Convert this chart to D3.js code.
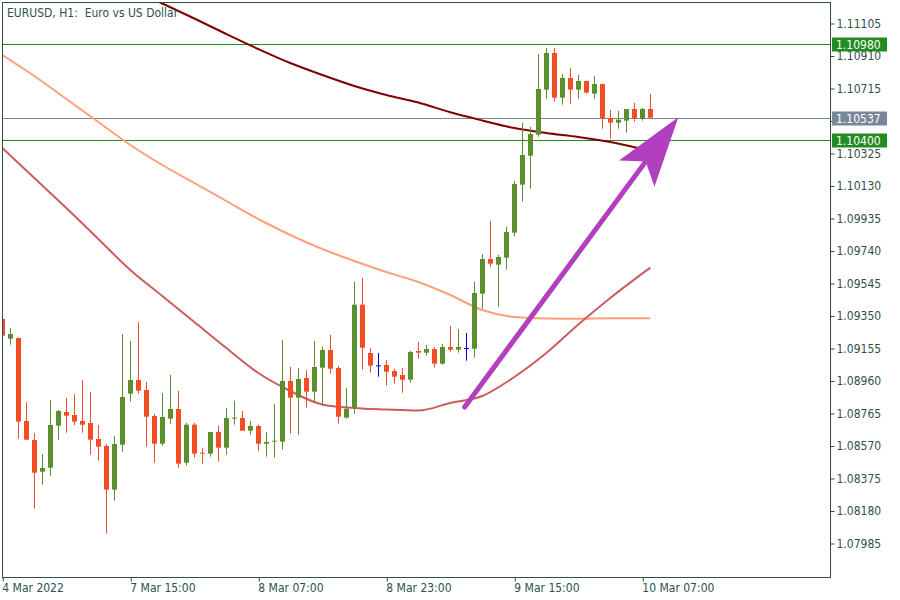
<!DOCTYPE html>
<html>
<head>
<meta charset="utf-8">
<script src="https://cdn.jsdelivr.net/npm/d3@7/dist/d3.min.js"></script>
<style>
  html, body { margin: 0; padding: 0; background: #ffffff; }
  svg { display: block; }
  text { font-family: "DejaVu Sans Condensed", "DejaVu Sans", sans-serif; }
</style>
</head>
<body>
<svg id="chart" width="900" height="600"></svg>
<script>
// ---------- DATA (EURUSD H1) ----------
const title = "EURUSD, H1:  Euro vs US Dollar";

const opens = [1.09329,1.09211,1.09215,1.08717,1.08603,1.08413,1.08437,1.08689,1.08771,1.08753,
1.08717,1.08705,1.08609,1.08567,1.08305,1.08575,1.08881,1.08963,1.08903,1.08747,
1.08581,1.08731,1.08789,1.08467,1.08695,1.08527,1.08521,1.08651,1.08557,1.08731,
1.08735,1.08659,1.08687,1.08581,1.08593,1.08593,1.08957,1.08857,1.08975,1.08893,
1.09037,1.09143,1.09035,1.08737,1.08797,1.09415,1.09125,1.09051,1.09053,1.09017,
1.08993,1.08965,1.09137,1.09127,1.09149,1.09061,1.09161,1.09145,1.09155,1.09151,
1.09481,1.09689,1.09655,1.09697,1.09847,1.10135,1.10309,1.10435,1.10705,1.10925,
1.10657,1.10775,1.10705,1.10757,1.10681,1.10739,1.10535,1.10507,1.10519,1.10589,
1.10531,1.10589];
const highs = [1.09335,1.09275,1.09218,1.08831,1.08643,1.08519,1.08843,1.08783,1.08855,1.08879,
1.08963,1.08891,1.08693,1.08579,1.08627,1.09239,1.09197,1.09311,1.08951,1.08759,
1.08885,1.08993,1.08897,1.08705,1.08705,1.08557,1.08651,1.08689,1.08797,1.08839,
1.08777,1.08717,1.08695,1.08651,1.08819,1.09203,1.09041,1.09035,1.09023,1.09197,
1.09163,1.09233,1.09047,1.08915,1.09551,1.09575,1.09155,1.09125,1.09083,1.09031,
1.09035,1.09137,1.09191,1.09173,1.09161,1.09179,1.09287,1.09269,1.09245,1.09551,
1.09719,1.09917,1.09713,1.09881,1.10157,1.10505,1.10481,1.10919,1.10955,1.10955,
1.10799,1.10835,1.10793,1.10759,1.10787,1.10741,1.10583,1.10577,1.10589,1.10625,
1.10595,1.10679];
const lows = [1.09221,1.09175,1.08611,1.08603,1.08191,1.08335,1.08389,1.08605,1.08647,1.08693,
1.08647,1.08515,1.08479,1.08041,1.08239,1.08533,1.08833,1.08881,1.08563,1.08467,
1.08569,1.08701,1.08437,1.08449,1.08497,1.08461,1.08503,1.08473,1.08515,1.08695,
1.08659,1.08635,1.08539,1.08503,1.08497,1.08545,1.08641,1.08635,1.08797,1.08827,
1.08809,1.09001,1.08701,1.08731,1.08761,1.09025,1.09007,1.08983,1.08929,1.08941,
1.08887,1.08947,1.09091,1.09109,1.09037,1.09055,1.09133,1.09127,1.09079,1.09097,
1.09391,1.09643,1.09403,1.09625,1.09823,1.10033,1.10111,1.10423,1.10651,1.10633,
1.10615,1.10621,1.10651,1.10681,1.10651,1.10471,1.10411,1.10471,1.10447,1.10513,
1.10519,1.10531];
const closes = [1.09229,1.09239,1.08713,1.08605,1.08407,1.08435,1.08693,1.08777,1.08749,1.08713,
1.08695,1.08605,1.08563,1.08305,1.08579,1.08861,1.08963,1.08899,1.08743,1.08581,
1.08741,1.08789,1.08461,1.08695,1.08521,1.08521,1.08651,1.08557,1.08735,1.08737,
1.08659,1.08687,1.08581,1.08591,1.08599,1.08957,1.08857,1.08969,1.08893,1.09041,
1.09143,1.09031,1.08743,1.08791,1.09415,1.09157,1.09049,1.09051,1.09013,1.08983,
1.08965,1.09131,1.09127,1.09149,1.09061,1.09161,1.09145,1.09161,1.09155,1.09485,
1.09689,1.09661,1.09701,1.09851,1.10139,1.10313,1.10439,1.10709,1.10925,1.10657,
1.10775,1.10705,1.10757,1.10687,1.10739,1.10535,1.10507,1.10525,1.10589,1.10531,
1.10589,1.10537];

// moving averages: bar index -> value
const maSlowBars = [18,20,24,28,32,36,40,44,48,52,56,60,64,68,72,76,81];
const maSlow     = [1.11267,1.11222,1.11132,1.11039,1.10949,1.10865,1.10793,1.10727,1.10673,1.10628,1.10569,1.10520,1.10475,1.10445,1.10421,1.10391,1.10337];
const maBars     = [0,4,8,12,16,20,24,28,32,36,40,44,48,52,56,60,64,68,72,76,81];
const maMid      = [1.10913,1.10787,1.10649,1.10511,1.10373,1.10253,1.10145,1.10037,1.09929,1.09833,1.09749,1.09677,1.09611,1.09551,1.09473,1.09383,1.09341,1.09332,1.09331,1.09333,1.09333];
const maFast     = [1.10355,1.10175,1.09995,1.09809,1.09623,1.09467,1.09311,1.09155,1.09005,1.08897,1.08816,1.08795,1.08786,1.08780,1.08825,1.08867,1.08981,1.09125,1.09296,1.09455,1.09637];

// horizontal levels
const levelValues = [1.10980, 1.10400];
const priceLine = 1.10537;

// axis ticks
const yTicks = [1.11105,1.10910,1.10715,1.10520,1.10325,1.10130,1.09935,1.09740,1.09545,1.09350,1.09155,1.08960,1.08765,1.08570,1.08375,1.08180,1.07985];
const yTickLabels = ["1.11105","1.10910","1.10715","","1.10325","1.10130","1.09935","1.09740","1.09545","1.09350","1.09155","1.08960","1.08765","1.08570","1.08375","1.08180","1.07985"];
const xTickBars = [0,16,32,48,64,80];
const xTickLabels = ["4 Mar 2022","7 Mar 15:00","8 Mar 07:00","8 Mar 23:00","9 Mar 15:00","10 Mar 07:00"];

// arrow annotation (bar index, price)
const arrowFrom = {bar: 57.8, price: 1.08801};
const arrowTo   = {bar: 84.5, price: 1.10539};

// ---------- DRAWING ----------
const svg = d3.select("#chart");
const L = 2.5, T = 2.5, R = 830.5, B = 577.5;
const axisColor = "#2F4F4F";
const bull = "#5B8F2E", bear = "#F44D24", dojiColor = "#0000CD";

const x = d3.scaleLinear().domain([0, 103.5]).range([2.3, 830.3]);
const y = d3.scaleLinear().domain([1.07781, 1.11243]).range([577, 0]);

svg.append("defs").append("clipPath").attr("id", "plotclip")
  .append("rect").attr("x", L).attr("y", T).attr("width", R - L).attr("height", B - T);

const plot = svg.append("g").attr("clip-path", "url(#plotclip)");

// horizontal levels
plot.selectAll("line.level").data(levelValues).enter().append("line")
  .attr("x1", L).attr("x2", R)
  .attr("y1", d => Math.round(y(d)) + 0.5).attr("y2", d => Math.round(y(d)) + 0.5)
  .attr("stroke", "#228B22").attr("stroke-width", 1);
plot.append("line")
  .attr("x1", L).attr("x2", R)
  .attr("y1", Math.round(y(priceLine)) + 0.5).attr("y2", Math.round(y(priceLine)) + 0.5)
  .attr("stroke", "#778899").attr("stroke-width", 1);

// moving averages
function maLine(bars, vals, color) {
  const pts = bars.map((b, i) => [x(b), y(vals[i])]);
  plot.append("path")
    .attr("d", d3.line().curve(d3.curveMonotoneX)(pts))
    .attr("fill", "none").attr("stroke", color).attr("stroke-width", 2);
}
maLine(maSlowBars, maSlow, "#800000");
maLine(maBars, maMid, "#FFA07A");
maLine(maBars, maFast, "#CD5C5C");

// candles
const candles = opens.map((o, i) => ({i, o, h: highs[i], l: lows[i], c: closes[i]}));
const colorOf = d => d.o === d.c ? dojiColor : (d.c > d.o ? bull : bear);
const cg = plot.selectAll("g.candle").data(candles).enter().append("g");
cg.append("line")
  .attr("x1", d => Math.round(x(d.i)) + 0.5).attr("x2", d => Math.round(x(d.i)) + 0.5)
  .attr("y1", d => y(d.h)).attr("y2", d => y(d.l))
  .attr("stroke", colorOf).attr("stroke-width", 1);
cg.append("rect")
  .attr("x", d => Math.round(x(d.i)) - 2)
  .attr("width", 5)
  .attr("y", d => y(Math.max(d.o, d.c)))
  .attr("height", d => Math.max(1, y(Math.min(d.o, d.c)) - y(Math.max(d.o, d.c))))
  .attr("fill", colorOf);

// arrow
const ax0 = x(arrowFrom.bar), ay0 = y(arrowFrom.price);
const ax1 = x(arrowTo.bar), ay1 = y(arrowTo.price);
const dx = ax1 - ax0, dy = ay1 - ay0, len = Math.hypot(dx, dy);
const ux = dx / len, uy = dy / len, nx = -uy, ny = ux;
const back = 70, notch = 55, half = 22;
const notchPt = [ax1 - ux * notch, ay1 - uy * notch];
const arrowColor = "#B23FBE";
svg.append("line")
  .attr("x1", ax0).attr("y1", ay0).attr("x2", notchPt[0] + ux * 4).attr("y2", notchPt[1] + uy * 4)
  .attr("stroke", arrowColor).attr("stroke-width", 5).attr("stroke-linecap", "round");
svg.append("path")
  .attr("d", d3.line()([
    [ax1, ay1],
    [ax1 - ux * back + nx * half, ay1 - uy * back + ny * half],
    notchPt,
    [ax1 - ux * back - nx * half, ay1 - uy * back - ny * half]
  ]) + "Z")
  .attr("fill", arrowColor);

// frame
svg.append("rect").attr("x", L).attr("y", T).attr("width", R - L).attr("height", B - T)
  .attr("fill", "none").attr("stroke", axisColor).attr("stroke-width", 1);

// right axis
const yAxis = d3.axisRight(y).tickValues(yTicks).tickSize(4).tickPadding(2)
  .tickFormat((d, i) => yTickLabels[i]);
const ya = svg.append("g").attr("transform", `translate(${R},0.5)`).call(yAxis);
ya.select(".domain").remove();
ya.selectAll("line").attr("stroke", axisColor);
ya.selectAll("text").attr("fill", axisColor).attr("font-size", 12)
  .style("font-family", '"DejaVu Sans Condensed", "DejaVu Sans", sans-serif');

// bottom axis
const xAxis = d3.axisBottom(x).tickValues(xTickBars).tickSize(4).tickPadding(2)
  .tickFormat((d, i) => xTickLabels[i]);
const xa = svg.append("g").attr("transform", `translate(0.5,${B})`).call(xAxis);
xa.select(".domain").remove();
xa.selectAll("line").attr("stroke", axisColor);
xa.selectAll("text").attr("fill", axisColor).attr("font-size", 12)
  .attr("text-anchor", "start").attr("x", -1)
  .style("font-family", '"DejaVu Sans Condensed", "DejaVu Sans", sans-serif');

// price labels on axis
const tags = [
  {v: levelValues[0], bg: "#228B22"},
  {v: priceLine, bg: "#778899"},
  {v: levelValues[1], bg: "#228B22"}
];
const tg = svg.selectAll("g.tag").data(tags).enter().append("g");
tg.append("rect").attr("x", 832).attr("y", d => Math.round(y(d.v)) - 6.5)
  .attr("width", 55).attr("height", 14).attr("fill", d => d.bg);
tg.append("text").attr("x", 836).attr("y", d => Math.round(y(d.v)) + 0.5)
  .attr("dy", "0.35em").attr("fill", "#ffffff").attr("font-size", 12)
  .text(d => d.v.toFixed(5));

// title
svg.append("text").attr("x", 7).attr("y", 17).attr("fill", axisColor)
  .attr("font-size", 12).style("white-space", "pre").text(title);
</script>
</body>
</html>
